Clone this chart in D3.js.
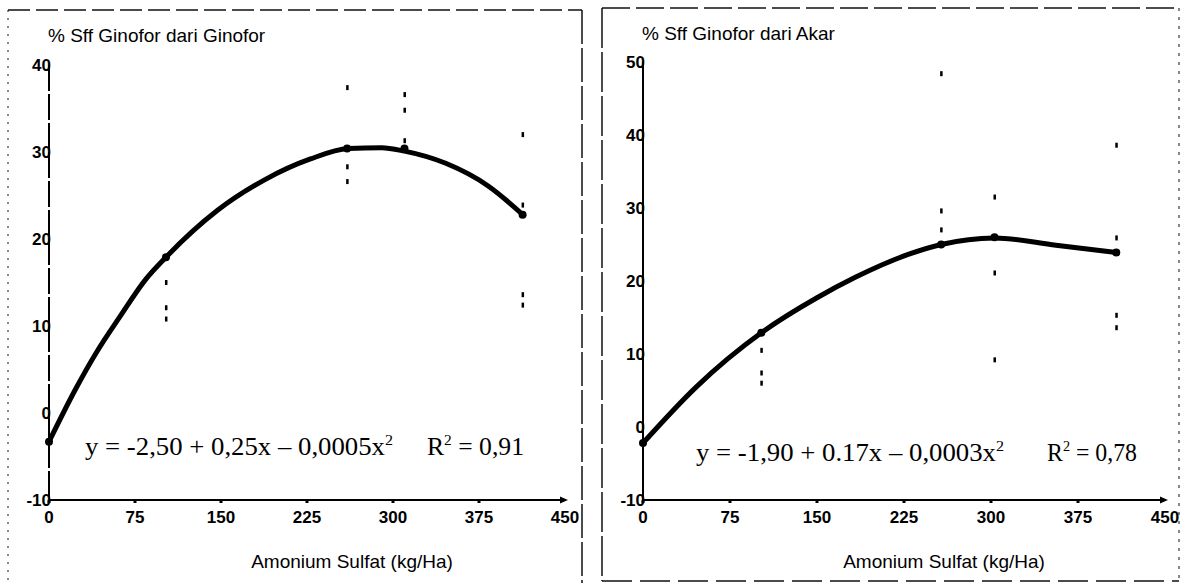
<!DOCTYPE html>
<html lang="id">
<head>
<meta charset="UTF-8">
<title>% Sff Ginofor</title>
<script src="https://d3js.org/d3.v7.min.js"></script>
<style>
  body { margin: 0; background: #fff; }
  svg { display: block; background: #fff; }
  .tick-label { font-family: "Liberation Sans", Arial, sans-serif; font-size: 17px; font-weight: bold; fill: #000; }
  .title { font-family: "Liberation Sans", Arial, sans-serif; font-size: 19px; fill: #000; }
  .eq { font-family: "Liberation Serif", "Times New Roman", serif; font-size: 25px; fill: #000; white-space: pre; }
</style>
</head>
<body>
<svg width="1182" height="583"></svg>
<script>
// axis ticks
const xTicks = [0, 75, 150, 225, 300, 375, 450];
const ginoforTicks = [-10, 0, 10, 20, 30, 40];
const akarTicks = [-10, 0, 10, 20, 30, 40, 50];

// panel 1: % Sff Ginofor dari Ginofor (curve)
const ginoforFitX = [0, 23, 42, 62, 84, 102, 147, 188, 228, 261, 290, 310, 346, 383, 414];
const ginoforFitY = [-3.3, 2.7, 7.1, 11.1, 15.3, 17.9, 23.3, 26.8, 29.2, 30.4, 30.5, 30.1, 28.7, 26.1, 22.7];
const ginoforMeanX = [0, 102, 260, 310, 413];
const ginoforMeanY = [-3.3, 17.9, 30.4, 30.4, 22.8];
const ginoforObsX = [102, 102, 102, 260, 260, 260, 310, 310, 310, 413, 413, 413, 413];
const ginoforObsY = [15.0, 12.1, 10.8, 37.4, 28.3, 26.6, 36.6, 34.8, 31.3, 32.0, 23.9, 13.6, 12.4];

// panel 2: % Sff Ginofor dari Akar
const akarFitX = [0, 46, 102, 150, 183, 228, 257, 303, 356, 408];
const akarFitY = [-2.2, 5.5, 12.9, 17.7, 20.5, 23.6, 25.0, 25.9, 24.9, 23.9];
const akarMeanX = [0, 102, 257, 303, 408];
const akarMeanY = [-2.2, 12.9, 25.0, 26.0, 23.9];
const akarObsX = [102, 102, 102, 257, 257, 257, 303, 303, 303, 408, 408, 408, 408];
const akarObsY = [10.5, 7.4, 6.0, 48.4, 29.6, 27.0, 31.5, 21.1, 9.2, 38.6, 25.9, 15.3, 13.6];

const svg = d3.select("svg");

function drawPanel(p) {
  const g = svg.append("g");

  const x = d3.scaleLinear().domain([0, 450]).range(p.xRange);
  const y = d3.scaleLinear().domain(d3.extent(p.yTicks)).range(p.yRange);

  // scanned frame
  const [bx0, by0, bx1, by1] = p.box;
  p.edges.forEach(e => {
    const pts = { top: [bx0, by0, bx1, by0], left: [bx0, by0, bx0, by1],
                  right: [bx1, by0, bx1, by1], bottom: [bx0, by1, bx1, by1] }[e.side];
    g.append("line")
      .attr("x1", pts[0]).attr("y1", pts[1]).attr("x2", pts[2]).attr("y2", pts[3])
      .attr("stroke", "#111").attr("stroke-width", e.w)
      .attr("stroke-dasharray", e.dash);
  });

  // y axis line
  g.append("line")
    .attr("x1", x(0)).attr("x2", x(0))
    .attr("y1", y(p.yTicks[p.yTicks.length - 1])).attr("y2", y(-10))
    .attr("stroke", "#000").attr("stroke-width", 2)
    .attr("stroke-dasharray", p.yAxisDash);

  // x axis line with arrow
  g.append("line")
    .attr("x1", x(0)).attr("x2", x(450))
    .attr("y1", y(-10)).attr("y2", y(-10))
    .attr("stroke", "#000").attr("stroke-width", 2);
  g.append("path")
    .attr("d", `M${x(450) + 3},${y(-10)} l-8,-3.5 l0,7 z`)
    .attr("fill", "#000");

  g.selectAll(".xtick").data(xTicks.slice(0, -1)).join("rect")
    .attr("x", d => x(d) - 1.5).attr("y", y(-10))
    .attr("width", 3).attr("height", 3).attr("fill", "#000");

  // tick labels
  g.selectAll(".ylab").data(p.yTicks).join("text")
    .attr("class", "tick-label")
    .attr("x", x(0) + 2).attr("y", d => y(d))
    .attr("dy", "0.36em").attr("text-anchor", "end")
    .text(d => d);

  g.selectAll(".xlab").data(xTicks).join("text")
    .attr("class", "tick-label")
    .attr("x", d => x(d)).attr("y", y(-10) + 23)
    .attr("text-anchor", "middle")
    .text(d => d);

  // titles
  g.append("text").attr("class", "title")
    .attr("x", p.titlePos[0]).attr("y", p.titlePos[1])
    .text(p.title);
  g.append("text").attr("class", "title")
    .attr("x", p.xTitlePos[0]).attr("y", p.xTitlePos[1])
    .attr("text-anchor", "middle")
    .text("Amonium Sulfat (kg/Ha)");

  // observations
  g.selectAll(".obs").data(p.obsX.map((v, i) => [v, p.obsY[i]])).join("rect")
    .attr("x", d => x(d[0]) - 1).attr("y", d => y(d[1]) - 2.5)
    .attr("width", 2.5).attr("height", 5).attr("fill", "#000");

  // fitted curve
  const line = d3.line()
    .x(d => x(d[0])).y(d => y(d[1]))
    .curve(d3.curveMonotoneX);
  g.append("path")
    .datum(p.fitX.map((v, i) => [v, p.fitY[i]]))
    .attr("d", line)
    .attr("fill", "none").attr("stroke", "#000")
    .attr("stroke-width", 5).attr("stroke-linecap", "round");

  g.selectAll(".mean").data(p.meanX.map((v, i) => [v, p.meanY[i]])).join("circle")
    .attr("cx", d => x(d[0])).attr("cy", d => y(d[1]))
    .attr("r", 4).attr("fill", "#000");

  // regression equation
  const eq = g.append("text").attr("class", "eq")
    .attr("x", p.eqPos[0]).attr("y", p.eqPos[1])
    .attr("textLength", p.eqPos[2]).attr("lengthAdjust", "spacingAndGlyphs");
  eq.append("tspan").text(p.eq);
  eq.append("tspan").attr("dy", -10).attr("font-size", 15).text("2");

  const r2 = g.append("text").attr("class", "eq")
    .attr("x", p.r2Pos[0]).attr("y", p.r2Pos[1])
    .attr("textLength", p.r2Pos[2]).attr("lengthAdjust", "spacingAndGlyphs");
  r2.append("tspan").text("R");
  r2.append("tspan").attr("dy", -10).attr("font-size", 15).text("2");
  r2.append("tspan").attr("dy", 10).text(" = " + p.r2);
}

drawPanel({
  box: [8, 10, 582, 583],
  edges: [
    { side: "top", w: 1.5, dash: "22,6" },
    { side: "left", w: 1, dash: "2,6" },
    { side: "right", w: 1.5, dash: "34,4" }
  ],
  xRange: [49, 565], yRange: [500, 65], yTicks: ginoforTicks, yAxisDash: "26,3",
  title: "% Sff Ginofor dari Ginofor", titlePos: [48, 42], xTitlePos: [352, 568],
  fitX: ginoforFitX, fitY: ginoforFitY, meanX: ginoforMeanX, meanY: ginoforMeanY,
  obsX: ginoforObsX, obsY: ginoforObsY,
  eq: "y = -2,50 + 0,25x \u2013 0,0005x", eqPos: [85, 455, 308],
  r2: "0,91", r2Pos: [427, 455, 97]
});

drawPanel({
  box: [602, 8, 1179, 581],
  edges: [
    { side: "top", w: 1.5, dash: "28,6" },
    { side: "left", w: 1.5, dash: "40,4" },
    { side: "right", w: 1, dash: "3,6" },
    { side: "bottom", w: 1.5, dash: "30,8" }
  ],
  xRange: [643, 1165], yRange: [500, 62], yTicks: akarTicks, yAxisDash: null,
  title: "% Sff Ginofor dari Akar", titlePos: [642, 40], xTitlePos: [944, 568],
  fitX: akarFitX, fitY: akarFitY, meanX: akarMeanX, meanY: akarMeanY,
  obsX: akarObsX, obsY: akarObsY,
  eq: "y = -1,90 + 0.17x \u2013 0,0003x", eqPos: [696, 461, 308],
  r2: "0,78", r2Pos: [1047, 461, 90]
});
</script>
</body>
</html>
